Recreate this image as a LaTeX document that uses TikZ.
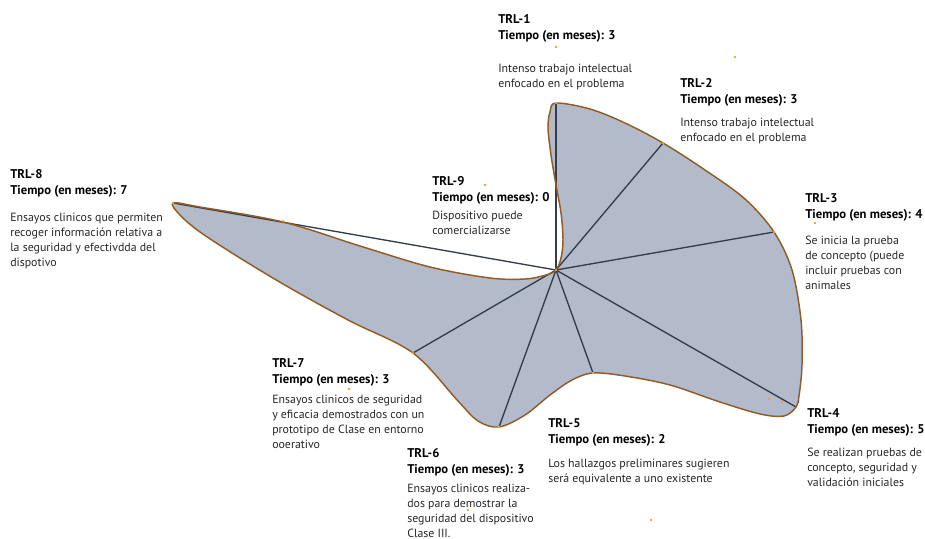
\documentclass[tikz,border=0pt]{standalone}
\usepackage{fontspec}
\setmainfont{PT Sans}
\definecolor{areafill}{RGB}{179,187,203}
\definecolor{edgecol}{RGB}{145,92,40}
\definecolor{spokecol}{RGB}{52,60,76}
\definecolor{dotcol}{RGB}{245,160,40}
\definecolor{txtcol}{RGB}{40,38,40}
\begin{document}
\begin{tikzpicture}[x=0.75pt,y=-0.75pt,
  title/.style={anchor=base west, inner sep=0pt, align=left,
    font=\bfseries\fontsize{9.5}{12}\selectfont},
  body/.style={anchor=base west, inner sep=0pt, align=left,
    font=\fontsize{8.9}{11.2}\selectfont, text=txtcol},
  spoke/.style={draw=spokecol, line width=1pt},
  dot/.style={circle, fill=dotcol, inner sep=0pt, minimum size=2.2pt}]
\useasboundingbox (0,0) rectangle (925,539);

% radar points (TRL-1 ... TRL-8, TRL-9 at the centre)
\coordinate (c)  at (556,270);
\coordinate (p1) at (556,103);
\coordinate (p2) at (663,143);
\coordinate (p3) at (774,232);
\coordinate (p4) at (796,407);
\coordinate (p5) at (593,373);
\coordinate (p6) at (499,427);
\coordinate (p7) at (413,353);
\coordinate (p8) at (173,203);

% smoothed outline of the series
\def\outline{plot[smooth cycle, tension=0.55] coordinates {
  (p1) (590,109) (625,123) (p2) (705,170) (745,199) (p3)
  (792,270) (801,320) (802,365) (799,396) (p4)
  (784,416) (760,414) (720,402) (670,385) (625,376) (p5)
  (572,380) (550,395) (525,415) (p6)
  (478,421) (458,401) (p7)
  (350,321) (290,288) (240,258) (200,232) (180,215) (p8)
  (200,207) (283,222) (360,246) (430,267) (490,278)
  (525,279) (546,275) (c)
  (561,258) (563,240) (561,213) (556,185) (551,155) (548,128)
  (550,112)}}

\fill[areafill] \outline;

% spokes
\foreach \i in {1,...,8} \draw[spoke] (c) -- (p\i);

\draw[edgecol, line width=1.1pt] \outline;

% markers
\foreach \p in {(556,103),(556,47),(735,57),(663,143),(485,185),(774,232),
  (815,223),(283,221),(173,203),(413,353),(499,427),(593,373),(769,399),
  (782,402),(556,270),(651,520),(349,389),(468,510)}
  \node[dot] at \p {};

% labels (anchored at the baseline of their last line)
\node[title] (t1) at (498,39) {TRL-1\\Tiempo (en meses): 3};
\node[body]  (b1) at (498,87) {Intenso trabajo intelectual\\enfocado en el problema};

\node[title] (t2) at (680,103) {TRL-2\\Tiempo (en meses): 3};
\node[body]  (b2) at (680,141) {Intenso trabajo intelectual\\enfocado en el problema};

\node[title] (t3) at (805,218) {TRL-3\\Tiempo (en meses): 4};
\node[body]  (b3) at (805,289) {Se inicia la prueba\\de concepto (puede\\incluir pruebas con\\animales};

\node[title] (t4) at (807,433) {TRL-4\\Tiempo (en meses): 5};
\node[body]  (b4) at (807,486) {Se realizan pruebas de\\concepto, seguridad y\\validación iniciales};

\node[title] (t5) at (548,443) {TRL-5\\Tiempo (en meses): 2};
\node[body]  (b5) at (548,482) {Los hallazgos preliminares sugieren\\será equivalente a uno existente};

\node[title] (t6) at (407,473) {TRL-6\\Tiempo (en meses): 3};
\node[body]  (b6) at (407,537) {Ensayos clinicos realiza-\\dos para demostrar la\\seguridad del dispositivo\\Clase III.};

\node[title] (t7) at (272,383) {TRL-7\\Tiempo (en meses): 3};
\node[body]  (b7) at (272,448) {Ensayos clinicos de seguridad\\y eficacia demostrados con un\\prototipo de Clase en entorno\\ooerativo};

\node[title] (t8) at (10,194) {TRL-8\\Tiempo (en meses): 7};
\node[body]  (b8) at (10,266) {Ensayos clinicos que permiten\\recoger información relativa a\\la seguridad y efectivdda del\\dispotivo};

\node[title] (t9) at (432,201) {TRL-9\\Tiempo (en meses): 0};
\node[body]  (b9) at (432,234) {Dispositivo puede\\comercializarse};
\end{tikzpicture}
\end{document}
